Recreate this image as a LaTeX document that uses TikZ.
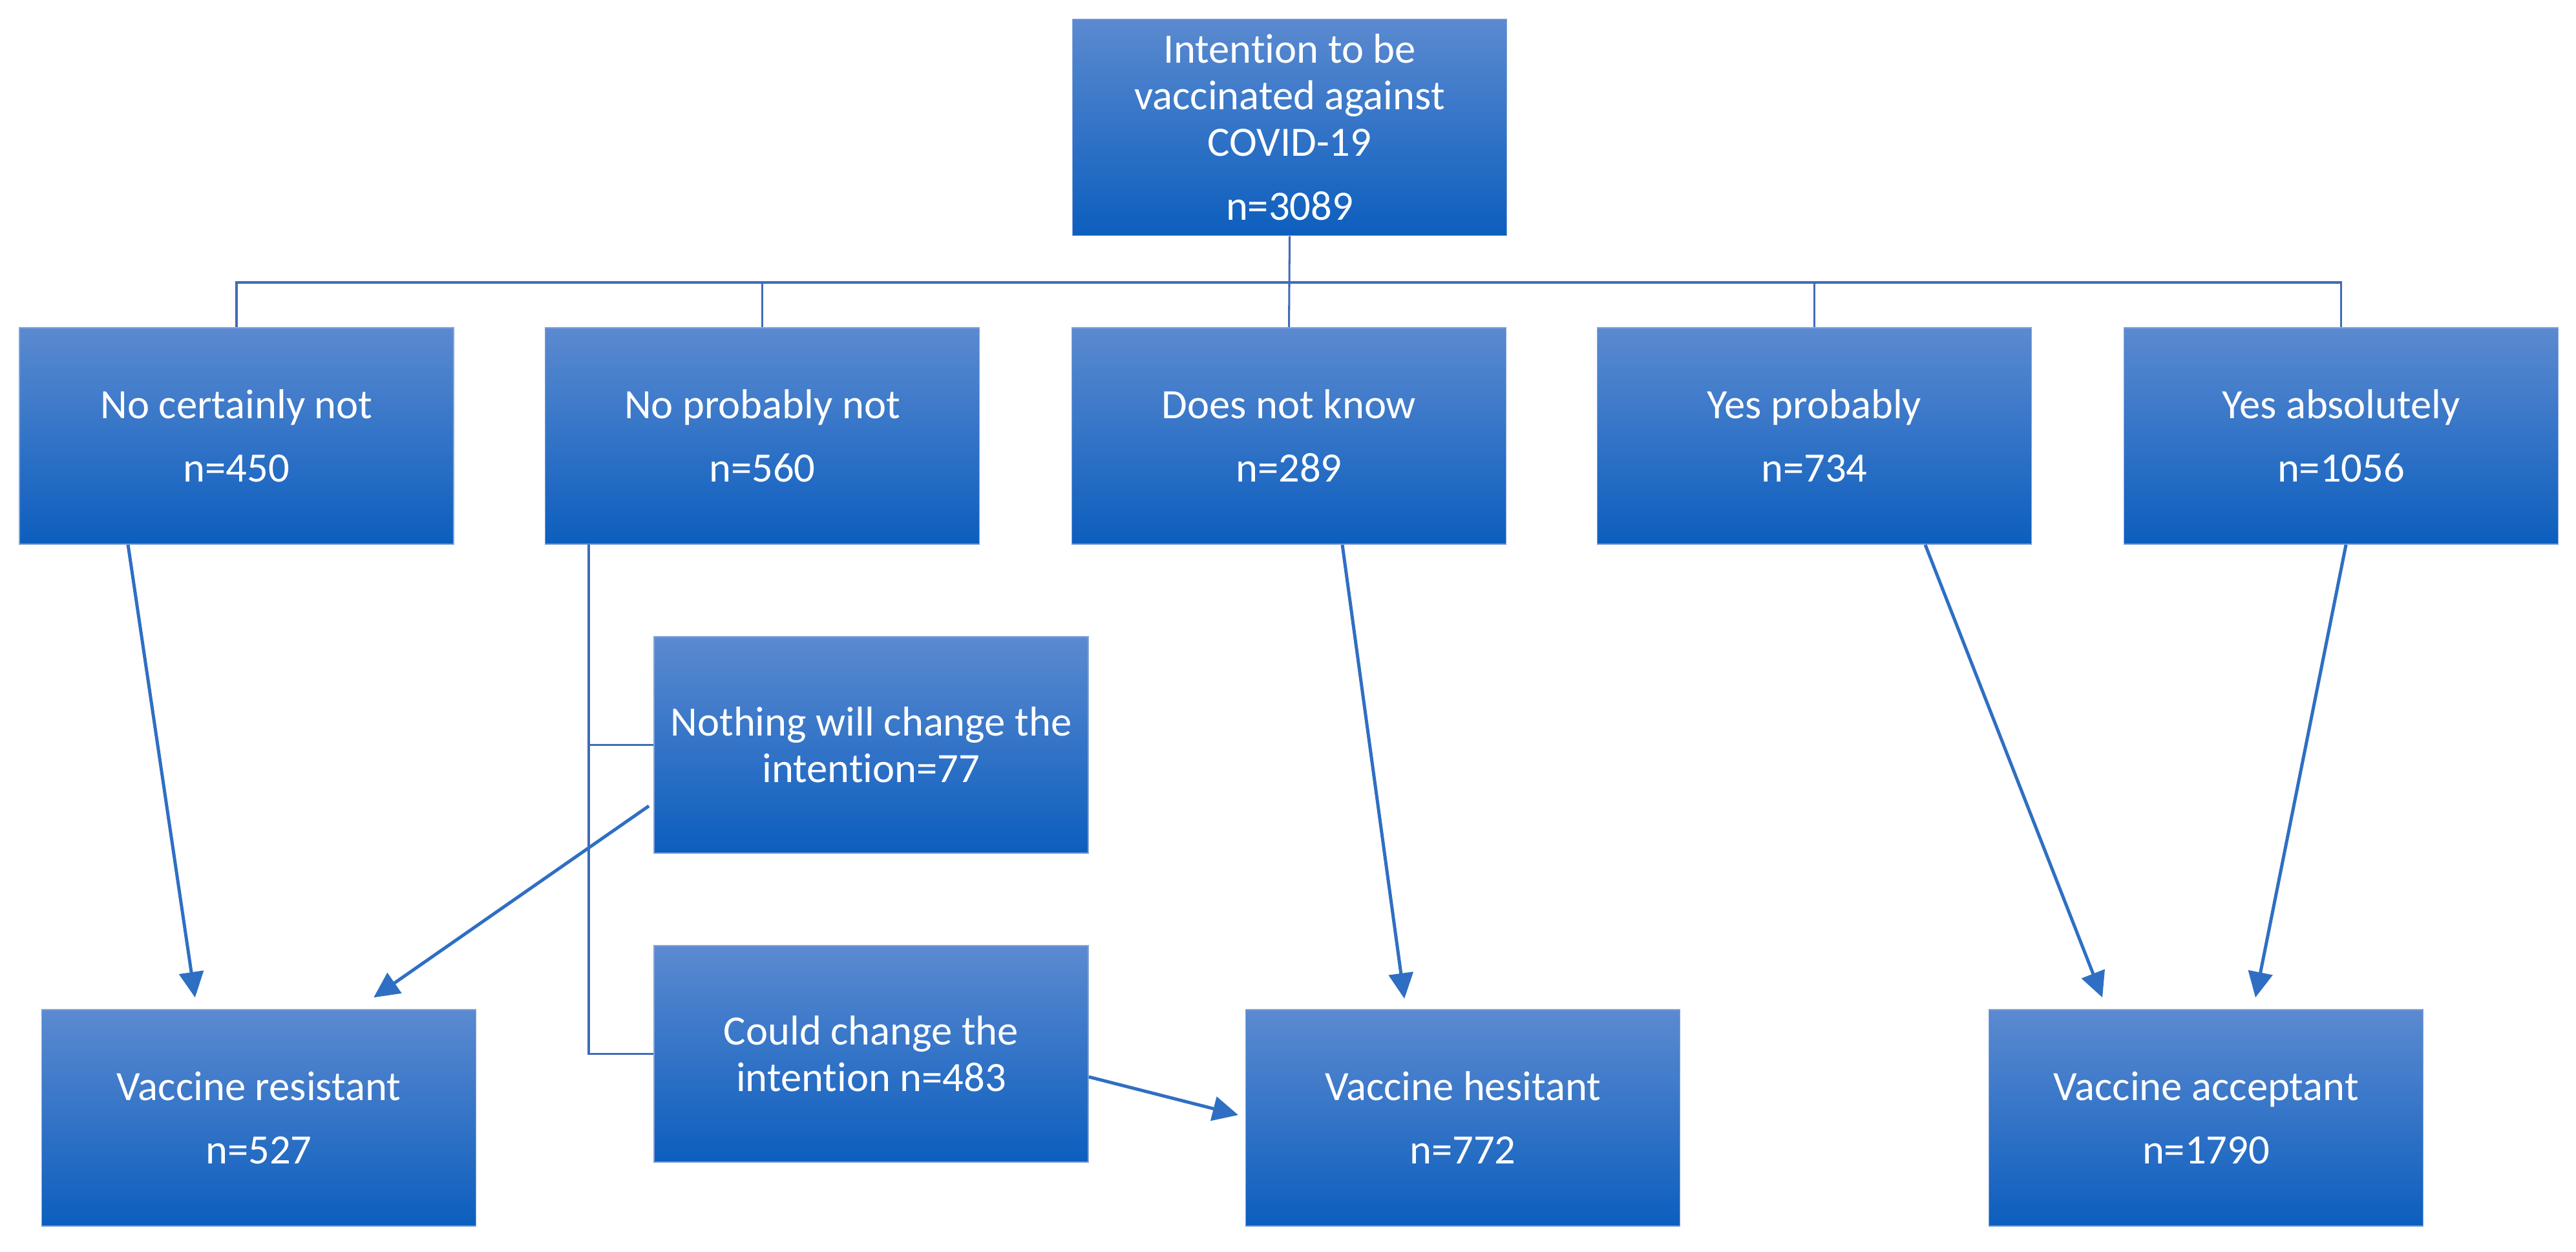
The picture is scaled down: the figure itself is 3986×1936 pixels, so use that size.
\documentclass[tikz,border=0pt]{standalone}
\usepackage{fontspec}
\setmainfont{Carlito}[Ligatures={NoCommon}]
\usetikzlibrary{arrows.meta}
\definecolor{boxtop}{HTML}{5B8AD0}
\definecolor{boxbot}{HTML}{0C5EBE}
\definecolor{boxedge}{HTML}{86A5DA}
\definecolor{arrowc}{HTML}{2F6FC3}
\definecolor{treec}{HTML}{3F6CB8}
\tikzset{
  bluebox/.style={rectangle, draw=boxedge, line width=0.4pt, top color=boxtop, bottom color=boxbot,
    minimum width=187.3pt, minimum height=93.4pt, inner sep=0pt, align=center, text=white,
    font=\fontsize{18}{20}\selectfont},
  treeline/.style={draw=treec, line width=0.85pt},
  flowarrow/.style={draw=arrowc, line width=1.4pt, -{Triangle[width=10.5pt,length=11pt]}},
}
\begin{document}
\begin{tikzpicture}[x=0.2787pt, y=-0.2787pt]
\useasboundingbox (0,0) rectangle (3986,1936);
% boxes
\node[bluebox] (top) at (1995.5,197) {Intention to be\\vaccinated against\\COVID-19\\[7.8pt]n=3089};
\node[bluebox] (r1) at (366,674.5) {No certainly not\\[7.3pt]n=450};
\node[bluebox] (r2) at (1179.5,674.5) {No probably not\\[7.3pt]n=560};
\node[bluebox] (r3) at (1994.5,674.5) {Does not know\\[7.3pt]n=289};
\node[bluebox] (r4) at (2807.5,674.5) {Yes probably\\[7.3pt]n=734};
\node[bluebox] (r5) at (3622.5,674.5) {Yes absolutely\\[7.3pt]n=1056};
\node[bluebox] (m1) at (1348,1152.5) {Nothing will change the\\intention=77};
\node[bluebox] (m2) at (1348,1630.5) {Could change the\\intention n=483};
\node[bluebox] (res) at (400.5,1729.5) {Vaccine resistant\\[7.3pt]n=527};
\node[bluebox] (hes) at (2263.5,1729.5) {Vaccine hesitant\\[7.3pt]n=772};
\node[bluebox] (acc) at (3413.5,1729.5) {Vaccine acceptant\\[7.3pt]n=1790};
% tree
\coordinate (bus) at (1995.5,437);
\coordinate (brk) at (911,842);
\draw[treeline] (top.south) -- (r3.north);
\draw[treeline] (r1.north) -- (r1.north |- bus) -- (r5.north |- bus) -- (r5.north);
\draw[treeline] (r2.north) -- (r2.north |- bus);
\draw[treeline] (r4.north) -- (r4.north |- bus);
\draw[treeline] (brk) |- (m2.west);
\draw[treeline] (brk |- m1.west) -- (m1.west);
% arrows
\draw[flowarrow] ([xshift=-46.8pt]r1.south) -- ([xshift=-27.5pt,yshift=5pt]res.north);
\draw[flowarrow] ([xshift=-2pt,yshift=-26.3pt]m1.west) -- ([xshift=49.5pt,yshift=5pt]res.north);
\draw[flowarrow] ([xshift=23pt]r3.south) -- ([xshift=-25.2pt,yshift=4.5pt]hes.north);
\draw[flowarrow] ([yshift=-9.9pt]m2.east) -- ([xshift=-3pt,yshift=1.25pt]hes.west);
\draw[flowarrow] ([xshift=47.8pt]r4.south) -- ([xshift=-44.7pt,yshift=5pt]acc.north);
\draw[flowarrow] ([xshift=2.1pt]r5.south) -- ([xshift=21.3pt,yshift=5pt]acc.north);
\end{tikzpicture}
\end{document}
